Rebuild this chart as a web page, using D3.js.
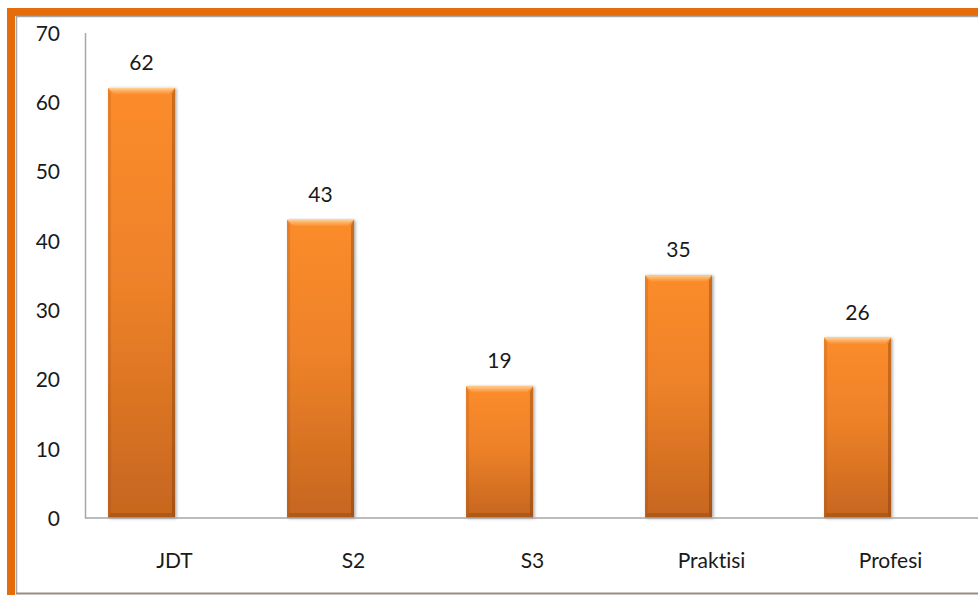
<!DOCTYPE html>
<html>
<head>
<meta charset="utf-8">
<script src="https://cdn.jsdelivr.net/npm/d3@7"></script>
<style>
  html, body { margin: 0; padding: 0; background: #ffffff; }
  svg { display: block; }
  text { font-family: Lato, "Open Sans", sans-serif; fill: #1a1a1a; font-variant-ligatures: none; font-feature-settings: "liga" 0; }
</style>
</head>
<body>
<svg id="chart" width="978" height="595"></svg>
<script>
const categories = ["JDT", "S2", "S3", "Praktisi", "Profesi"];
const values = [62, 43, 19, 35, 26];
const yTicks = [0, 10, 20, 30, 40, 50, 60, 70];

const W = 978, H = 595;
const svg = d3.select("#chart");

// frame
svg.append("rect").attr("x", 0).attr("y", 0).attr("width", W).attr("height", H).attr("fill", "#ffffff");
svg.append("rect").attr("x", 7).attr("y", 8).attr("width", W - 7 + 5).attr("height", 8).attr("fill", "#E46C0A");
svg.append("rect").attr("x", 7).attr("y", 8).attr("width", 8).attr("height", H).attr("fill", "#E46C0A");
svg.append("line").attr("x1", 16).attr("x2", W).attr("y1", 16.5).attr("y2", 16.5).attr("stroke", "#a6a6a6").attr("stroke-width", 1.5);
svg.append("line").attr("x1", 16.5).attr("x2", 16.5).attr("y1", 16).attr("y2", 594).attr("stroke", "#a6a6a6").attr("stroke-width", 1.5);
svg.append("line").attr("x1", 16).attr("x2", W).attr("y1", 593.5).attr("y2", 593.5).attr("stroke", "#9c8c80").attr("stroke-width", 2);

const x = d3.scaleBand().domain(categories).range([85, 85 + 179 * 5]).paddingInner(0.626).paddingOuter(0.313);
const y = d3.scaleLinear().domain([0, 70]).range([518, 32.5]);
const barShift = -33; // bars sit left of the category label centre

const defs = svg.append("defs");
const grad = defs.append("linearGradient").attr("id", "barGrad").attr("x1", 0).attr("x2", 0).attr("y1", 0).attr("y2", 1);
grad.append("stop").attr("offset", "0%").attr("stop-color", "#FC8C2C");
grad.append("stop").attr("offset", "45%").attr("stop-color", "#EE8229");
grad.append("stop").attr("offset", "100%").attr("stop-color", "#C6661F");
const topGrad = defs.append("linearGradient").attr("id", "topGrad").attr("x1", 0).attr("x2", 0).attr("y1", 0).attr("y2", 1);
topGrad.append("stop").attr("offset", "0%").attr("stop-color", "#FFD39A");
topGrad.append("stop").attr("offset", "100%").attr("stop-color", "#FA9A40").attr("stop-opacity", 0.6);
const filt = defs.append("filter").attr("id", "shadow").attr("x", "-20%").attr("y", "-10%").attr("width", "150%").attr("height", "130%");
filt.append("feDropShadow").attr("dx", 1.5).attr("dy", 0.5).attr("stdDeviation", 1.5).attr("flood-color", "#000").attr("flood-opacity", 0.35);

// y axis
const yAxis = d3.axisLeft(y).tickValues(yTicks).tickSize(0).tickPadding(0);
const gy = svg.append("g").attr("transform", "translate(85,0)").call(yAxis);
gy.select(".domain").attr("stroke", "#a6a6a6").attr("stroke-width", 1.5);
gy.selectAll(".tick text").attr("x", -25).attr("dy", "0.36em").attr("font-size", 21)
  .attr("font-family", "Lato, 'Open Sans', sans-serif").attr("fill", "#1a1a1a");

// bars
const bw = x.bandwidth();
const bx = i => x(categories[i]) + barShift;
const bars = svg.append("g").selectAll("g.bar").data(values).enter().append("g").attr("class", "bar");
bars.append("rect")
  .attr("x", (d, i) => bx(i))
  .attr("y", d => y(d))
  .attr("width", bw)
  .attr("height", d => y(0) - y(d))
  .attr("fill", "url(#barGrad)")
  .attr("filter", "url(#shadow)");
const bev = 6;
bars.append("path")
  .attr("d", (d, i) => {
    const x0 = bx(i), x1 = x0 + bw, t = y(d);
    return `M${x0},${t}L${x1},${t}L${x1 - bev},${t + bev}L${x0 + bev},${t + bev}Z`;
  })
  .attr("fill", "url(#topGrad)");
bars.append("path")
  .attr("d", (d, i) => {
    const x0 = bx(i), t = y(d), b = y(0);
    return `M${x0},${t}L${x0 + 3},${t + bev}L${x0 + 3},${b - 4}L${x0},${b}Z`;
  })
  .attr("fill", "#8a4510").attr("opacity", 0.18);
bars.append("path")
  .attr("d", (d, i) => {
    const x1 = bx(i) + bw, t = y(d), b = y(0);
    return `M${x1},${t}L${x1 - 3},${t + bev}L${x1 - 3},${b - 4}L${x1},${b}Z`;
  })
  .attr("fill", "#6b3208").attr("opacity", 0.35);
bars.append("path")
  .attr("d", (d, i) => {
    const x0 = bx(i), x1 = x0 + bw, b = y(0);
    return `M${x0},${b}L${x1},${b}L${x1 - 3},${b - 5}L${x0 + 3},${b - 5}Z`;
  })
  .attr("fill", "#7a3a0a").attr("opacity", 0.3);

// value labels
svg.append("g").selectAll("text").data(values).enter().append("text")
  .attr("x", (d, i) => bx(i) + bw / 2)
  .attr("y", d => y(d) - 18)
  .attr("text-anchor", "middle")
  .attr("font-size", 21)
  .text(d => d);

// x axis
const xAxis = d3.axisBottom(x).tickSize(0).tickPadding(0);
const gx = svg.append("g").attr("transform", "translate(0,518)").call(xAxis);
gx.select(".domain").attr("stroke", "#a6a6a6").attr("stroke-width", 1.5).attr("d", `M85,0H${W}`);
gx.selectAll(".tick text").attr("y", 50).attr("dy", 0).attr("font-size", 21)
  .attr("font-family", "Lato, 'Open Sans', sans-serif").attr("fill", "#1a1a1a");
</script>
</body>
</html>
